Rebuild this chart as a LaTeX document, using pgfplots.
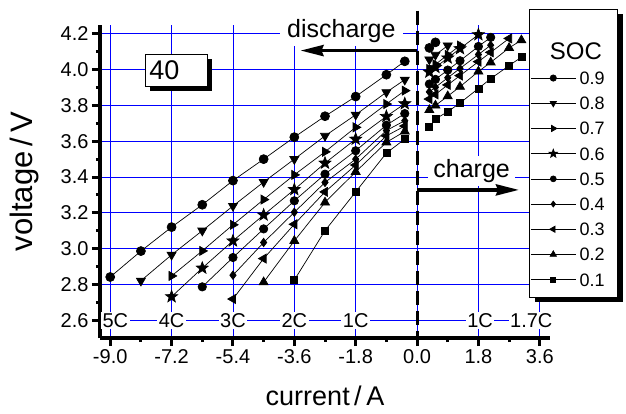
\documentclass[border=0pt]{standalone}
\usepackage{fontspec}
\setmainfont{Liberation Sans}
\usepackage{pgfplots}
\pgfplotsset{compat=1.18}
\usetikzlibrary{arrows.meta,plotmarks}
\pgfdeclareplotmark{fstar}{%
  \pgfpathmoveto{\pgfpointpolar{90}{\pgfplotmarksize}}%
  \pgfpathlineto{\pgfpointpolar{126}{0.42\pgfplotmarksize}}%
  \pgfpathlineto{\pgfpointpolar{162}{\pgfplotmarksize}}%
  \pgfpathlineto{\pgfpointpolar{198}{0.42\pgfplotmarksize}}%
  \pgfpathlineto{\pgfpointpolar{234}{\pgfplotmarksize}}%
  \pgfpathlineto{\pgfpointpolar{270}{0.42\pgfplotmarksize}}%
  \pgfpathlineto{\pgfpointpolar{306}{\pgfplotmarksize}}%
  \pgfpathlineto{\pgfpointpolar{342}{0.42\pgfplotmarksize}}%
  \pgfpathlineto{\pgfpointpolar{18}{\pgfplotmarksize}}%
  \pgfpathlineto{\pgfpointpolar{54}{0.42\pgfplotmarksize}}%
  \pgfpathclose\pgfusepathqfillstroke}
\begin{document}
\begin{tikzpicture}
\path[use as bounding box] (-100bp,-76bp) rectangle (526bp,338bp);
\begin{axis}[
  at={(0,0)}, anchor=south west,
  scale only axis, width=450bp, height=313bp,
  xmin=-9.3, xmax=3.9, ymin=2.5, ymax=4.25,
  clip=false,
  unbounded coords=jump,
  axis x line*=bottom, axis y line*=left,
  axis line style={line width=3.5bp, -},
  xtick={-9,-7.2,-5.4,-3.6,-1.8,0,1.8,3.6},
  ytick={2.6,2.8,3.0,3.2,3.4,3.6,3.8,4.0,4.2},
  minor x tick num=1, minor y tick num=1,
  tick align=outside,
  major tick length=8bp, minor tick length=4bp,
  tick style={black, line width=3bp},
  grid=major,
  major grid style={blue, line width=0.9bp},
  /pgf/number format/assume math mode=true,
  xticklabel style={/pgf/number format/.cd, fixed, fixed zerofill, precision=1},
  yticklabel style={/pgf/number format/.cd, fixed, fixed zerofill, precision=1},
  tick label style={font=\fontsize{20bp}{24bp}\selectfont},
  xlabel={current\,/\,A},
  ylabel={voltage\,/\,V},
  xlabel style={at={(axis description cs:0.5,-0.185)}, anchor=center, font=\fontsize{27bp}{32bp}\selectfont},
  ylabel style={at={(axis description cs:-0.168,0.5)}, anchor=center, font=\fontsize{31bp}{36bp}\selectfont},
  every axis plot/.append style={black, line width=0.7bp},
  legend image code/.code={
    \draw[mark repeat=2, mark phase=2, #1, every mark/.append style={scale=0.7}]
      plot coordinates {(0bp,0bp) (22.5bp,0bp) (45bp,0bp)};
  },
  legend style={at={(axis cs:3.32,3.99)}, anchor=north west, draw=none, fill=none,
    font=\fontsize{18bp}{21bp}\selectfont, inner sep=0bp, row sep=12.5bp,
    nodes={inner xsep=3.5bp, inner ysep=0bp, text height=12.7bp, text depth=0bp}},
  legend cell align=left,
]
% SOC 0.9
\addplot[mark=*, mark size=4.5bp, mark options={fill=black}] coordinates {
 (-9.0,2.841) (-8.1,2.986) (-7.2,3.120) (-6.3,3.245) (-5.4,3.380) (-4.5,3.500)
 (-3.6,3.623) (-2.7,3.740) (-1.8,3.850) (-0.9,3.972) (-0.36,4.047)
 (0,nan) (0.36,4.122) (0.54,4.153)};
\addlegendentry{0.9}
% SOC 0.8
\addplot[mark=triangle*, mark size=5.2bp, mark options={fill=black, rotate=180}] coordinates {
 (-8.1,2.820) (-7.2,2.965) (-6.3,3.100) (-5.4,3.238) (-4.5,3.372) (-3.6,3.500)
 (-2.7,3.630) (-1.8,3.748) (-0.9,3.874) (-0.36,3.944)
 (0,nan) (0.36,4.057) (0.54,4.083) (0.9,4.135)};
\addlegendentry{0.8}
% SOC 0.7
\addplot[mark=triangle*, mark size=5.2bp, mark options={fill=black, rotate=-90}] coordinates {
 (-7.2,2.847) (-6.3,2.987) (-5.4,3.133) (-4.5,3.274) (-3.6,3.412) (-2.7,3.541)
 (-1.8,3.678) (-0.9,3.808) (-0.36,3.883)
 (0,nan) (0.36,4.004) (0.54,4.030) (0.9,4.083) (1.26,4.135)};
\addlegendentry{0.7}
% SOC 0.6
\addplot[mark=fstar, mark size=6.3bp, mark options={fill=black}] coordinates {
 (-7.2,2.731) (-6.3,2.891) (-5.4,3.043) (-4.5,3.188) (-3.6,3.330) (-2.7,3.478)
 (-1.8,3.612) (-0.9,3.739) (-0.36,3.810)
 (0,nan) (0.36,3.987) (0.54,4.013) (0.9,4.066) (1.26,4.118) (1.8,4.196)};
\addlegendentry{0.6}
% SOC 0.5
\addplot[mark=*, mark size=4.2bp, mark options={fill=black}] coordinates {
 (-6.3,2.786) (-5.4,2.950) (-4.5,3.110) (-3.6,3.267) (-2.7,3.416) (-1.8,3.547)
 (-0.9,3.690) (-0.36,3.755)
 (0,nan) (0.36,3.920) (0.54,3.946) (0.9,3.998) (1.26,4.050) (1.8,4.130) (2.16,4.181)};
\addlegendentry{0.5}
% SOC 0.4
\addplot[mark=diamond*, mark size=4.2bp, mark options={fill=black}] coordinates {
 (-5.4,2.851) (-4.5,3.034) (-3.6,3.203) (-2.7,3.370) (-1.8,3.500) (-0.9,3.660)
 (-0.36,3.715)
 (0,nan) (0.36,3.876) (0.54,3.902) (0.9,3.955) (1.26,4.007) (1.8,4.085) (2.16,4.137)};
\addlegendentry{0.4}
% SOC 0.3
\addplot[mark=triangle*, mark size=5.2bp, mark options={fill=black, rotate=90}] coordinates {
 (-5.4,2.718) (-4.5,2.944) (-3.6,3.136) (-2.7,3.317) (-1.8,3.467) (-0.9,3.630)
 (-0.36,3.685)
 (0,nan) (0.36,3.836) (0.54,3.862) (0.9,3.915) (1.26,3.967) (1.8,4.045) (2.16,4.097) (2.7,4.175)};
\addlegendentry{0.3}
% SOC 0.2
\addplot[mark=triangle*, mark size=5.2bp, mark options={fill=black}] coordinates {
 (-4.5,2.812) (-3.6,3.043) (-2.7,3.258) (-1.8,3.429) (-0.9,3.594) (-0.36,3.655)
 (0,nan) (0.36,3.775) (0.54,3.800) (0.9,3.852) (1.26,3.905) (1.8,3.990) (2.16,4.041) (2.7,4.122) (3.06,4.165)};
\addlegendentry{0.2}
% SOC 0.1
\addplot[mark=square*, mark size=3.5bp, mark options={fill=black}] coordinates {
 (-3.6,2.824) (-2.7,3.100) (-1.8,3.317) (-0.9,3.534) (-0.36,3.612)
 (0,nan) (0.36,3.680) (0.54,3.725) (0.9,3.765) (1.26,3.814) (1.8,3.895) (2.16,3.950) (2.7,4.023) (3.06,4.070)};
\addlegendentry{0.1}

% dashed zero line
\draw[black, line width=3bp, dash pattern=on 14bp off 6bp] (axis cs:0,4.33) -- (axis cs:0,2.5);
% discharge
\node[fill=white, inner xsep=7bp, inner ysep=3bp, font=\fontsize{25bp}{29bp}\selectfont] at (axis cs:-2.22,4.215) {discharge};
\draw[line width=3.5bp, -{Stealth[length=23bp,width=11bp,inset=2bp]}] (axis cs:0,4.107) -- (axis cs:-3.42,4.107);
% charge
\node[fill=white, inner xsep=5bp, inner ysep=3bp, font=\fontsize{25bp}{29bp}\selectfont] at (axis cs:1.60,3.433) {charge};
\draw[line width=3.5bp, -{Stealth[length=23bp,width=11bp,inset=2bp]}] (axis cs:0,3.328) -- (axis cs:2.99,3.328);
% C labels
\node[fill=white, inner sep=1.5bp, font=\fontsize{20bp}{24bp}\selectfont] at (axis cs:-8.85,2.6) {5C};
\node[fill=white, inner sep=1.5bp, font=\fontsize{20bp}{24bp}\selectfont] at (axis cs:-7.2,2.6) {4C};
\node[fill=white, inner sep=1.5bp, font=\fontsize{20bp}{24bp}\selectfont] at (axis cs:-5.4,2.6) {3C};
\node[fill=white, inner sep=1.5bp, font=\fontsize{20bp}{24bp}\selectfont] at (axis cs:-3.6,2.6) {2C};
\node[fill=white, inner sep=1.5bp, font=\fontsize{20bp}{24bp}\selectfont] at (axis cs:-1.8,2.6) {1C};
\node[fill=white, inner sep=1.5bp, font=\fontsize{20bp}{24bp}\selectfont] at (axis cs:1.85,2.6) {1C};
\node[fill=white, inner sep=1.5bp, font=\fontsize{20bp}{24bp}\selectfont] at (axis cs:3.35,2.6) {1.7C};
% 40 box
\fill[black] (axis cs:-7.823,4.060) rectangle (axis cs:-6.003,3.881);
\draw[black, line width=0.8bp, fill=white] (axis cs:-7.97,4.088) rectangle (axis cs:-6.15,3.909);
\node[anchor=west, inner sep=0bp, font=\fontsize{27bp}{31bp}\selectfont] at (axis cs:-7.86,3.998) {40};
% legend box
\fill[black] (axis cs:3.447,4.312) rectangle (axis cs:6.037,2.699);
\draw[black, line width=0.8bp, fill=white] (axis cs:3.30,4.34) rectangle (axis cs:5.89,2.727);
\node[font=\fontsize{24bp}{28bp}\selectfont] at (axis cs:4.66,4.105) {SOC};
\end{axis}
\end{tikzpicture}
\end{document}
